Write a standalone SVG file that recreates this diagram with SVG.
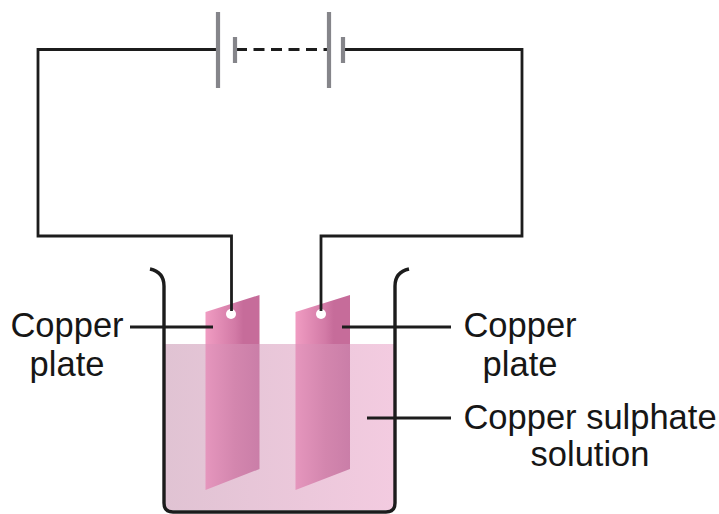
<svg xmlns="http://www.w3.org/2000/svg" width="719" height="514" viewBox="0 0 719 514">
<style>
.w{fill:none;stroke:#1c1c1c;stroke-width:2.800}
.b{fill:none;stroke:#85858a;stroke-width:4.200}
.t{font-family:"Liberation Sans",Arial,sans-serif;font-size:34.500px;fill:#161616;text-anchor:middle}
.p{stroke:none}
</style>
<defs>
<linearGradient id="pl" x1="0" y1="0" x2="1" y2="0">
<stop offset="0" stop-color="#f09cc2"/><stop offset="0.55" stop-color="#d27aa6"/><stop offset="0.7" stop-color="#c66c9a"/><stop offset="1" stop-color="#c66c9a"/>
</linearGradient>
<linearGradient id="pw" x1="0" y1="0" x2="1" y2="0">
<stop offset="0" stop-color="#e596bd"/><stop offset="0.55" stop-color="#d386ae"/><stop offset="1" stop-color="#ca7ea8"/>
</linearGradient>
<linearGradient id="sol" x1="0" y1="0" x2="1" y2="0">
<stop offset="0" stop-color="#e0c3d3"/><stop offset="1" stop-color="#f3cbe0"/>
</linearGradient>
</defs>
<rect width="719" height="514" fill="#fff"/>
<g id="solution"><path fill="url(#sol)" d="M165 344H394V510H165Z"/></g>
<g id="plate-left"><path class="p" fill="url(#pl)" d="M205.500 312L259.500 295V344H205.500Z"/><path class="p" fill="url(#pw)" d="M205.500 344H259.500V469L205.500 490Z"/></g>
<g id="plate-right"><path class="p" fill="url(#pl)" d="M295.500 312L350 295V344H295.500Z"/><path class="p" fill="url(#pw)" d="M295.500 344H350V469L295.500 490Z"/></g>
<g id="beaker"><path d="M150 269C159 271 164 276 164 286V503Q164 512 173 512H386Q395 512 395 503V286C395 276 400 271 409 269" fill="none" stroke="#1c1c1c" stroke-width="3.400"/></g>
<g id="holes">
<circle cx="231" cy="314" r="5" fill="#fff"/><circle cx="321" cy="314" r="5" fill="#fff"/>
</g>
<g id="connectors">
<path class="w" d="M217 49.500H38V236H231.500V311"/>
<path class="w" d="M345 49.500H522V236H321V311"/>
<path class="w" d="M236 49.500H328" stroke-dasharray="11 6.500"/>
<path class="w" d="M130 327H213"/>
<path class="w" d="M342 327H451"/>
<path class="w" d="M367 418H451"/>
</g>
<g id="battery">
<path class="b" d="M218 12V88"/><path class="b" d="M235 37V63"/>
<path class="b" d="M329 12V88"/><path class="b" d="M343 37V63"/>
</g>
<g id="label-left"><text class="t" x="67" y="337">Copper</text><text class="t" x="67" y="376">plate</text></g>
<g id="label-right"><text class="t" x="520" y="337">Copper</text><text class="t" x="520" y="376">plate</text></g>
<g id="label-solution"><text class="t" x="590" y="429">Copper sulphate</text><text class="t" x="590" y="466">solution</text></g>
</svg>
